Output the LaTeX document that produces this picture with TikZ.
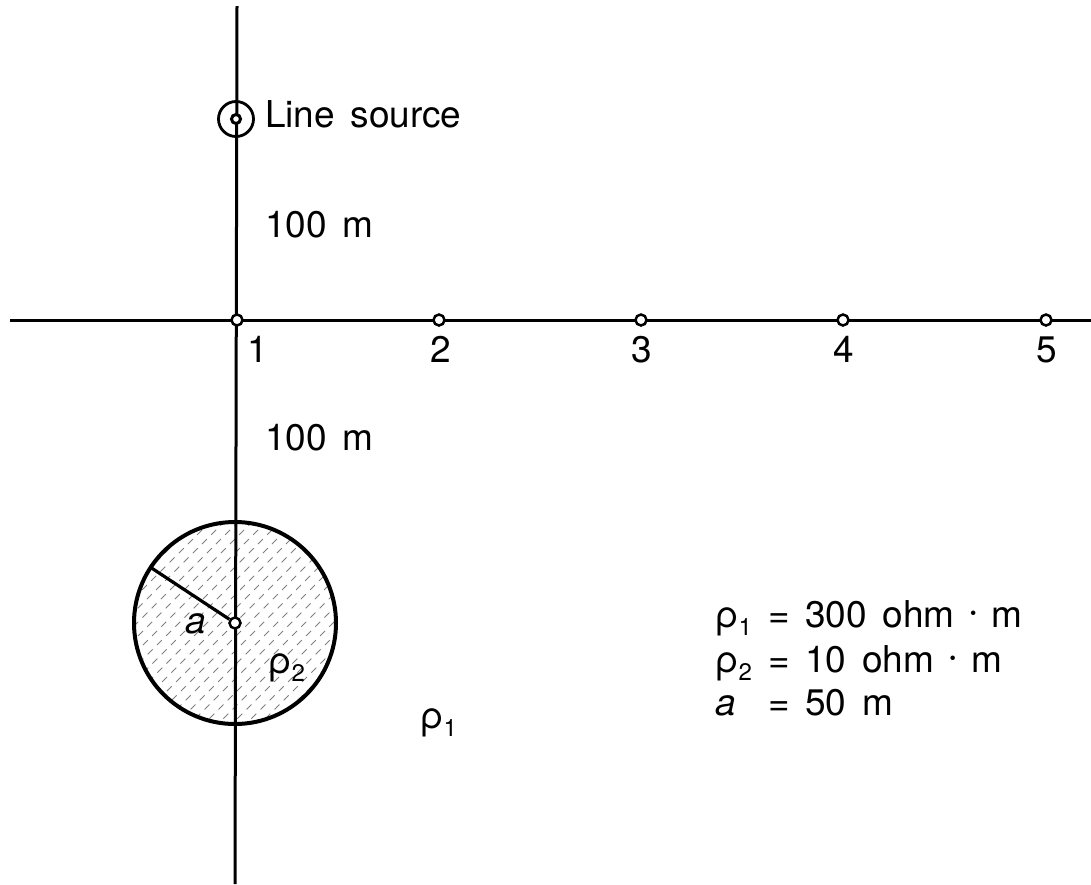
\documentclass[tikz,border=0pt]{standalone}
\usepackage{fontspec}
\setmainfont{TeX Gyre Heros}
\usetikzlibrary{calc}
\newcommand{\mysub}[1]{\raisebox{-8pt}{\fontsize{24}{24}\selectfont #1}}
\newcommand{\wsp}{\hspace{0.42em}}
\newcommand{\mdot}{\raisebox{8pt}{\fontsize{18}{18}\selectfont\textbullet}}
\begin{document}
\begin{tikzpicture}[x=1pt,y=-1pt,
  axis/.style={line width=3pt},
  obs/.style={circle,draw,line width=2.5pt,fill=white,inner sep=0pt,minimum size=11pt},
  lbl/.style={font=\fontsize{37}{40}\selectfont,inner sep=0pt},
  hatch/.style={black!50,line width=0.8pt,dash pattern=on 7pt off 6pt}]
\useasboundingbox (0,0) rectangle (1091,884);
\coordinate (vtop) at (237,6);
\coordinate (vbot) at (235,884);
\coordinate (hl) at (10,320);
\coordinate (hr) at (1091,320);
\coordinate (c) at (235,623);
\coordinate (rend) at ($(c)+(-85,-56)$);
% hatching
\begin{scope}
  \clip (c) circle (101);
  \foreach \k in {-24,...,24} \draw[hatch] ($(c)+(\k*14-160,160)$) -- ++(320,-320);
\end{scope}
% axes
\draw[axis] (vtop) -- (vbot);
\draw[axis] (hl) -- (hr);
% inclusion
\draw[line width=4pt] (c) circle (101);
\node[obs,minimum size=11pt] (cc) at (c) {};
\draw[line width=3.2pt] (cc) -- (rend);
% line source
\node[circle,draw,line width=2.8pt,minimum size=35pt,inner sep=0pt] (ls) at (236,119) {};
\node[circle,draw,fill=white,line width=3pt,minimum size=9pt,inner sep=0pt] (lsd) at (ls) {};
\node[lbl,anchor=base west] (lst) at (265,127) {Line\wsp source};
% points
\node[obs] (p1) at (237,320) {};
\node[obs] (p2) at (439,320) {};
\node[obs] (p3) at (641,320) {};
\node[obs] (p4) at (843,320) {};
\node[obs] (p5) at (1046,320) {};
\node[lbl,anchor=base] (n1) at (258,362) {1};
\node[lbl,anchor=base] (n2) at (441,362) {2};
\node[lbl,anchor=base] (n3) at (642,362) {3};
\node[lbl,anchor=base] (n4) at (844,362) {4};
\node[lbl,anchor=base] (n5) at (1047,362) {5};
% distances
\node[lbl,anchor=base west] (d1) at (265,237) {100\wsp m};
\node[lbl,anchor=base west] (d2) at (265,450) {100\wsp m};
% labels in picture
\node[lbl,anchor=base west] (la) at (185,633) {\itshape a};
\node[lbl,anchor=base west] (lr2) at (268,673) {ρ\mysub{2}};
\node[lbl,anchor=base west] (lr1) at (420,728) {ρ\mysub{1}};
% parameters
\node[lbl,anchor=base west] (k1) at (715,627) {ρ\mysub{1}};
\node[lbl,anchor=base west] (v1) at (768,627) {=\wsp 300\wsp ohm\wsp\mdot\wsp m};
\node[lbl,anchor=base west] (k2) at (715,672) {ρ\mysub{2}};
\node[lbl,anchor=base west] (v2) at (768,672) {=\wsp 10\wsp ohm\wsp\mdot\wsp m};
\node[lbl,anchor=base west] (k3) at (715,715) {\itshape a};
\node[lbl,anchor=base west] (v3) at (768,715) {=\wsp 50\wsp m};
\end{tikzpicture}
\end{document}
